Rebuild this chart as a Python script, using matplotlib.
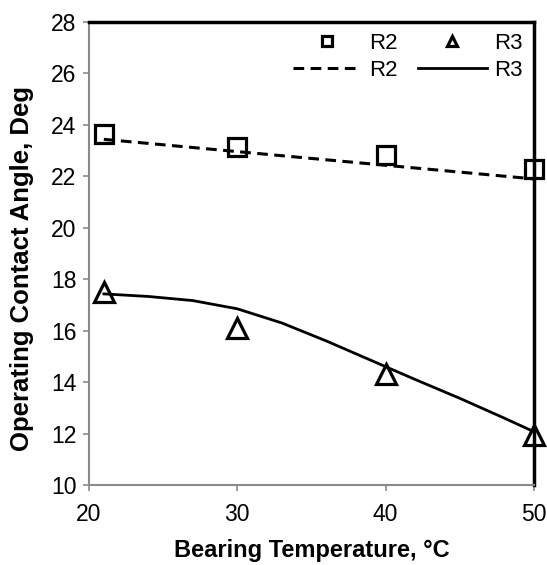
import matplotlib.pyplot as plt

plt.rcParams["font.family"] = ["Liberation Sans", "DejaVu Sans"]

# measured points
temps = [21, 30, 40, 50]
r2_angle = [23.65, 23.15, 22.83, 22.3]
r3_angle = [17.5, 16.1, 14.3, 11.95]

# trend lines
r2_trend_x = [21, 50]
r2_trend_y = [23.44, 21.9]
r3_trend_x = [21, 24, 27, 30, 33, 36, 39, 42, 45, 48, 50]
r3_trend_y = [17.43, 17.33, 17.17, 16.85, 16.3, 15.6, 14.85, 14.1, 13.37, 12.6, 12.07]

fig = plt.figure(figsize=(5.47, 5.65), dpi=100)
ax = fig.add_axes([0.1627, 0.1416, 0.8135, 0.8194])

sq, = ax.plot(temps, r2_angle, linestyle="none", marker="s", markersize=13,
              markerfacecolor="none", markeredgecolor="black", markeredgewidth=2.3,
              clip_on=False, zorder=3)
tri, = ax.plot(temps, r3_angle, linestyle="none", marker="^", markersize=14,
               markerfacecolor="none", markeredgecolor="black", markeredgewidth=2.3,
               clip_on=False, zorder=3)
dash, = ax.plot(r2_trend_x, r2_trend_y, color="black", linewidth=2.2,
                dashes=(3.5, 2.1), zorder=4)
solid, = ax.plot(r3_trend_x, r3_trend_y, color="black", linewidth=2.0, zorder=4)

ax.set_xlim(20, 50)
ax.set_ylim(10, 28)
ax.set_xticks([20, 30, 40, 50])
ax.set_yticks(range(10, 29, 2))

for side in ["left", "bottom"]:
    ax.spines[side].set_color("#8a8a8a")
    ax.spines[side].set_linewidth(1.5)
for side in ["top", "right"]:
    ax.spines[side].set_color("black")
    ax.spines[side].set_linewidth(2.5)

ax.tick_params(axis="both", direction="out", length=4, width=1.2, color="#8a8a8a",
               labelsize=16.5)
ax.tick_params(axis="x", pad=9)
ax.tick_params(axis="y", pad=5)

ax.set_xlabel("Bearing Temperature, °C", fontsize=17, fontweight="bold", labelpad=9)
ax.set_ylabel("Operating Contact Angle, Deg", fontsize=18.5, fontweight="bold")
ax.yaxis.set_label_coords(-0.124, 0.467)

leg = ax.legend([sq, dash, tri, solid], ["R2", "R2", "R3", "R3"], ncol=2,
                loc="upper right", bbox_to_anchor=(1.0, 1.0), frameon=False,
                fontsize=16, handlelength=3.1, handletextpad=0.35, columnspacing=0.9,
                labelspacing=0.25, markerscale=0.55, borderaxespad=0.1)

fig.savefig("out.png", dpi=100)
